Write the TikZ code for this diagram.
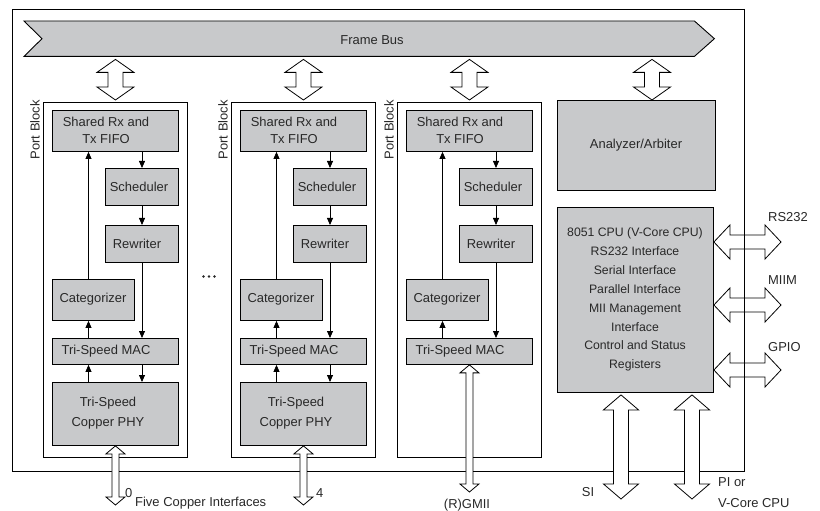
\documentclass[tikz,border=0pt]{standalone}
\usepackage{fontspec}
\setmainfont{Liberation Sans}
\usetikzlibrary{calc,arrows.meta}
\definecolor{boxgray}{RGB}{200,201,203}
\definecolor{txt}{RGB}{40,40,40}
\tikzset{
  blk/.style={draw=black, fill=boxgray, line width=0.9pt, inner sep=0pt, anchor=north west},
  port/.style={draw=black, fill=white, line width=0.9pt, inner sep=0pt, anchor=north west},
  lbl/.style={font=\fontsize{13}{17}\selectfont, text=txt, inner sep=0pt, align=center},
  phyl/.style={font=\fontsize{13}{20}\selectfont, text=txt, inner sep=0pt, align=center},
  cpul/.style={font=\fontsize{12.3}{19}\selectfont, text=txt, inner sep=0pt, align=center},
  sarrow/.style={line width=0.8pt, -{Triangle[length=7bp,width=6bp]}},
  fat/.style={draw=black, fill=white, line width=0.8pt, line join=miter},
}
\newcommand{\fatv}[5]{%
  \path[fat] let \p1=(#1), \p2=(#2) in
    (\x1,\y1) -- (\x1+#4bp,\y1-#5bp) -- (\x1+#3bp,\y1-#5bp) -- (\x1+#3bp,\y2+#5bp)
    -- (\x1+#4bp,\y2+#5bp) -- (\x1,\y2) -- (\x1-#4bp,\y2+#5bp) -- (\x1-#3bp,\y2+#5bp)
    -- (\x1-#3bp,\y1-#5bp) -- (\x1-#4bp,\y1-#5bp) -- cycle;}
\newcommand{\fath}[5]{%
  \path[fat] let \p1=(#1), \p2=(#2) in
    (\x1,\y1) -- (\x1+#5bp,\y1+#4bp) -- (\x1+#5bp,\y1+#3bp) -- (\x2-#5bp,\y1+#3bp)
    -- (\x2-#5bp,\y1+#4bp) -- (\x2,\y1) -- (\x2-#5bp,\y1-#4bp) -- (\x2-#5bp,\y1-#3bp)
    -- (\x1+#5bp,\y1-#3bp) -- (\x1+#5bp,\y1-#4bp) -- cycle;}
\begin{document}
\begin{tikzpicture}[x=1bp,y=-1bp]
\useasboundingbox (0,0) rectangle (820,511);
\fill[white] (0,0) rectangle (820,511);
% outer frame
\draw[line width=0.9pt] (12,9) rectangle (744,471);
\coordinate (frameNE) at (744,9);
\coordinate (frameSE) at (744,471);
% frame bus
\node[inner sep=0pt, minimum width=670bp, minimum height=35bp, anchor=north west] (bus) at (24,21) {};
\draw[line width=0.9pt, fill=boxgray, line join=miter] (bus.north west) -- (bus.north east) -- ($(bus.east)+(20,0)$)
  -- (bus.south east) -- (bus.south west) -- ($(bus.west)+(18,0)$) -- cycle;
\node[lbl] (bustext) at (372,40) {Frame Bus};

% port blocks
\foreach \i/\o in {1/0,2/188,3/354} {
  \node[port, minimum width=144bp, minimum height=355bp] (pb\i) at (43+\o,102) {};
  \node[lbl, rotate=90, anchor=east] (pbl\i) at (35+\o,100) {Port Block};
  \node[blk, minimum width=126bp, minimum height=41bp] (fifo\i) at (52+\o,110) {};
  \node[lbl] (tfifo\i) at (106+\o,130.5) {Shared Rx and\\Tx FIFO};
  \node[blk, minimum width=73bp, minimum height=37bp] (sched\i) at (105+\o,168) {};
  \node[lbl] (tsched\i) at (139+\o,186.5) {Scheduler};
  \node[blk, minimum width=73bp, minimum height=37bp] (rew\i) at (105+\o,225) {};
  \node[lbl] (trew\i) at (137+\o,243.5) {Rewriter};
  \node[blk, minimum width=82bp, minimum height=41bp] (cat\i) at (52+\o,279) {};
  \node[lbl] (tcat\i) at (93+\o,299.5) {Categorizer};
  \node[blk, minimum width=126bp, minimum height=26bp] (mac\i) at (52+\o,338) {};
  \node[lbl] (tmac\i) at (106+\o,351) {Tri-Speed MAC};
  \coordinate (rx\i) at (142+\o,0);
  \coordinate (lx\i) at (88.5+\o,0);
  \draw[sarrow] (fifo\i.south -| rx\i) -- (sched\i.north -| rx\i);
  \draw[sarrow] (sched\i.south -| rx\i) -- (rew\i.north -| rx\i);
  \draw[sarrow] (rew\i.south -| rx\i) -- (mac\i.north -| rx\i);
  \draw[sarrow] (mac\i.north -| lx\i) -- (cat\i.south -| lx\i);
  \draw[sarrow] (cat\i.north -| lx\i) -- (fifo\i.south -| lx\i);
}
\foreach \i/\o in {1/0,2/188} {
  \node[blk, minimum width=126bp, minimum height=63bp] (phy\i) at (52+\o,382) {};
  \node[phyl] (tphy\i) at (108+\o,413.5) {Tri-Speed\\Copper PHY};
  \draw[sarrow] (mac\i.south -| rx\i) -- (phy\i.north -| rx\i);
  \draw[sarrow] (phy\i.north -| lx\i) -- (mac\i.south -| lx\i);
}

% ellipsis between blocks
\foreach \d in {203.5,209,214.5} \fill[txt] (\d,276.5) circle (1.3bp);

% analyzer and CPU
\node[blk, minimum width=158bp, minimum height=90bp] (ana) at (557,100) {};
\node[lbl] (tana) at (636,145) {Analyzer/Arbiter};
\node[blk, minimum width=156bp, minimum height=185bp] (cpu) at (557,207) {};
\node[cpul] (tcpu) at (635,299.5) {8051 CPU (V-Core CPU)\\RS232 Interface\\Serial Interface\\Parallel Interface\\MII Management\\Interface\\Control and Status\\Registers};

% fat arrows from bus
\foreach \i in {1,2,3} {
  \coordinate (bt\i) at ($(pb\i.north |- bus.south)+(0,3)$);
  \coordinate (bb\i) at ($(pb\i.north)+(0,-2)$);
  \fatv{bt\i}{bb\i}{7.5}{18.5}{13}
}
\coordinate (ax) at (652,0);
\coordinate (at) at ($(bus.south -| ax)+(0,3)$);
\coordinate (ab) at (ana.north -| ax);
\fatv{at}{ab}{7.5}{18.5}{13}

% port external arrows
\coordinate (pe1) at (phy1.south |- 0,505);
\coordinate (pe2) at (phy2.south |- 0,505);
\coordinate (pe3) at (mac3.south |- 0,492);
\fatv{phy1.south}{pe1}{3.5}{9.5}{8}
\fatv{phy2.south}{pe2}{3.5}{9.5}{8}
\fatv{mac3.south}{pe3}{3.5}{9.5}{8}

% CPU bottom arrows
\coordinate (si) at ($(cpu.south west)+(64,2)$);
\coordinate (sie) at (si |- 0,499);
\coordinate (pi) at ($(cpu.south west)+(135,2)$);
\coordinate (pie) at (pi |- 0,499);
\fatv{si}{sie}{7.5}{17.5}{15}
\fatv{pi}{pie}{7.5}{17.5}{15}

% CPU right arrows
\coordinate (r1) at (cpu.east |- 0,242);
\coordinate (r1e) at (781,242);
\coordinate (r2) at (cpu.east |- 0,305);
\coordinate (r2e) at (781,305);
\coordinate (r3) at (cpu.east |- 0,370);
\coordinate (r3e) at (781,370);
\fath{r1}{r1e}{7}{17}{16}
\fath{r2}{r2e}{7}{17}{16}
\fath{r3}{r3e}{7}{17}{16}
\draw[line width=0.9pt] (frameNE) -- (frameSE);

% labels
\node[lbl, anchor=west] (lrs) at (768,217) {RS232};
\node[lbl, anchor=west] (lmiim) at (768,280) {MIIM};
\node[lbl, anchor=west] (lgpio) at (768,347) {GPIO};
\node[lbl] (lsi) at (588,492) {SI};
\node[lbl, anchor=west] (lpi) at (718,482) {PI or};
\node[lbl, anchor=west] (lvc) at (718,503) {V-Core CPU};
\node[lbl] (lrg) at (467,505) {(R)GMII};
\node[lbl, anchor=west] (l0) at (125,493) {0};
\node[lbl, anchor=west] (l4) at (316,493) {4};
\node[lbl, anchor=west] (lfive) at (135,503) {Five Copper Interfaces};
\end{tikzpicture}
\end{document}
